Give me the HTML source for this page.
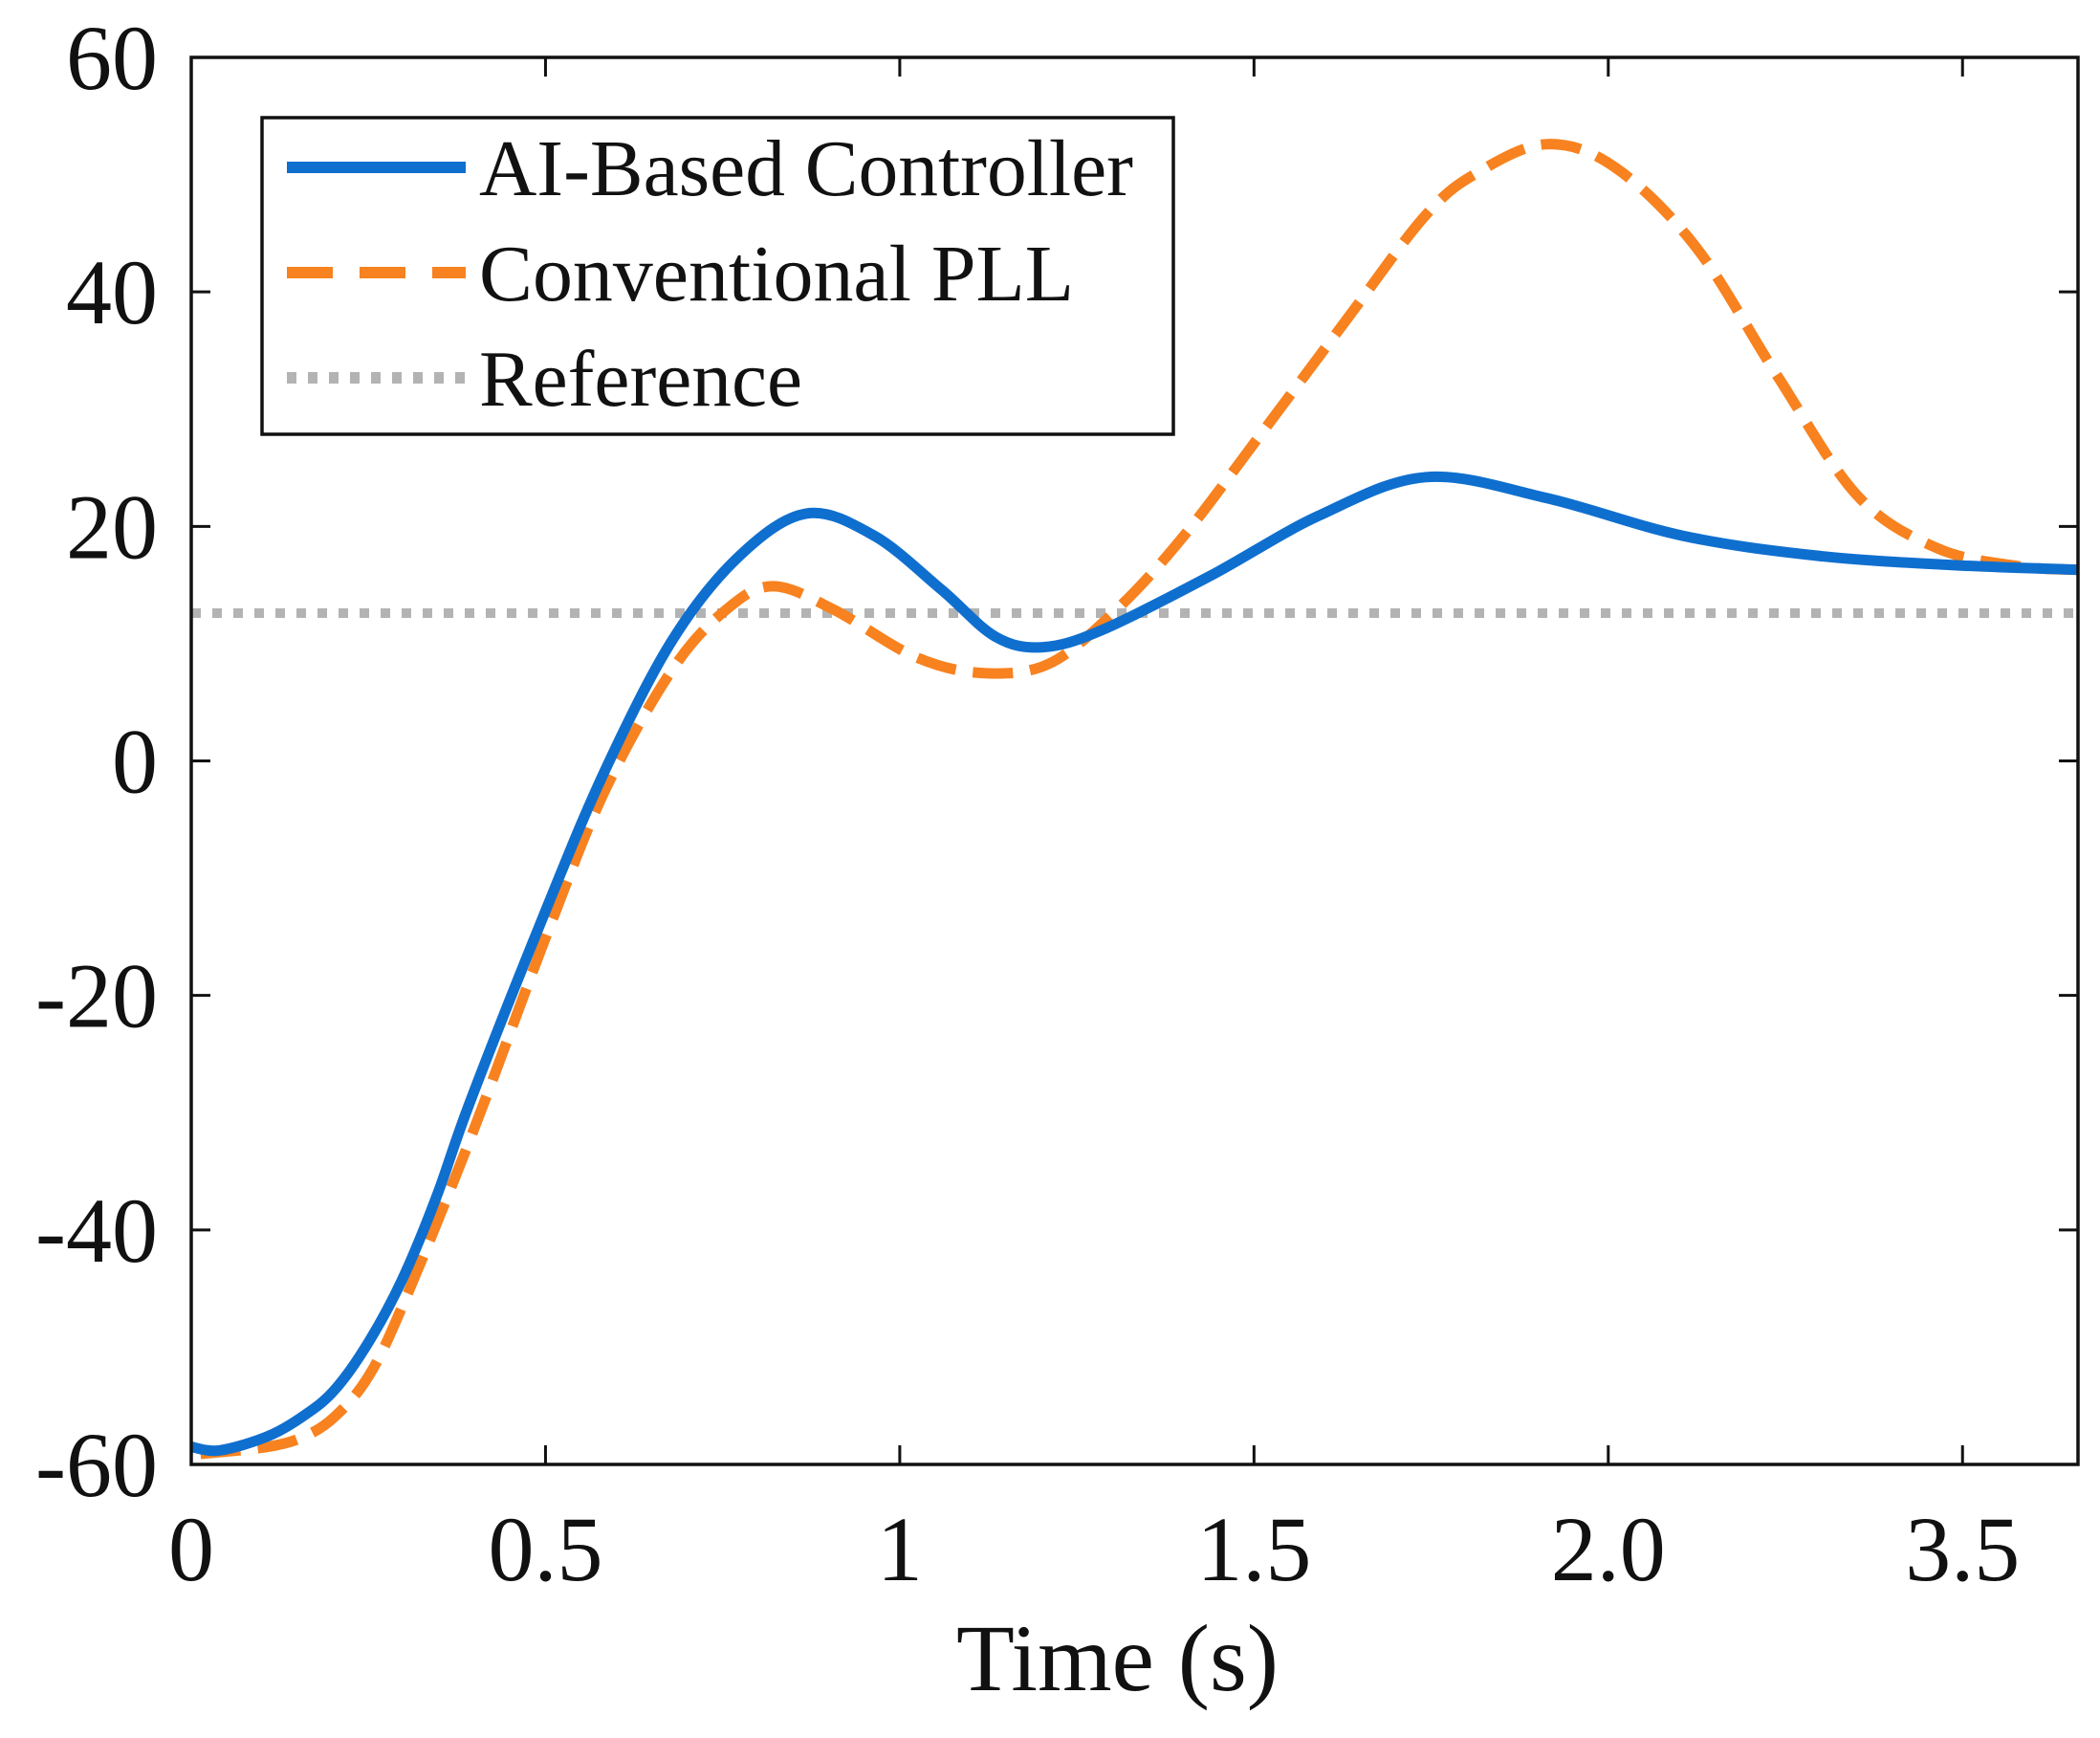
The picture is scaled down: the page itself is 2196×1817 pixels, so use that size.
<!DOCTYPE html>
<html><head><meta charset="utf-8"><style>
html,body{margin:0;padding:0;background:#fff;}
svg{display:block;}
text{font-family:"Liberation Serif",serif;fill:#111;}
</style></head><body>
<svg id="chart" width="2196" height="1817" viewBox="0 0 2196 1817" xmlns="http://www.w3.org/2000/svg">
<g id="series"></g>
<g id="axes"></g>
<g id="legend"></g>
</svg>
<script>
const xTickPos=[0,0.5,1,1.5,2,2.5];
const xTickLabels=["0","0.5","1","1.5","2.0","3.5"];
const yTicks=[-60,-40,-20,0,20,40,60];
const yTickLabels=["-60","-40","-20","0","20","40","60"];
const blueT=[0,0.04,0.108,0.16,0.203,0.25,0.298,0.346,0.394,0.5,0.584,0.679,0.774,0.869,0.964,1.059,1.135,1.202,1.287,1.439,1.591,1.743,1.914,2.105,2.295,2.485,2.663];
const blueV=[-58.5,-58.8,-57.6,-55.8,-53.6,-49.6,-44.2,-37.2,-29.0,-12.8,-0.8,10.3,17.5,21.1,19.2,14.6,10.6,9.7,11.2,15.8,20.9,24.2,22.4,19.2,17.5,16.7,16.3];
const orangeT=[0.013,0.108,0.16,0.203,0.25,0.298,0.394,0.5,0.584,0.679,0.755,0.821,0.907,1.021,1.116,1.211,1.306,1.401,1.515,1.629,1.743,1.819,1.914,2.010,2.124,2.238,2.352,2.466,2.580,2.663];
const orangeV=[-59.1,-58.5,-57.6,-55.9,-52.5,-46.5,-32.2,-15.1,-2.5,7.8,12.9,14.9,12.9,8.9,7.5,8.3,12.9,19.2,28.3,37.5,46.6,50.3,52.6,50.6,43.8,32.9,22.6,18.1,16.6,16.3];
const refValue=[12.6];

const L=200,R=2173,T=60,B=1531,XMAX=2.663;
const sx=t=>L+(t/XMAX)*(R-L);
const sy=v=>B-(v+60)/120*(B-T);
const NS="http://www.w3.org/2000/svg";
function mk(tag,attrs,parent){const e=document.createElementNS(NS,tag);for(const k in attrs)e.setAttribute(k,attrs[k]);parent.appendChild(e);return e;}
const S=document.getElementById('series'),A=document.getElementById('axes'),G=document.getElementById('legend');

const ref=mk('line',{x1:L,x2:R,y1:sy(refValue[0]),y2:sy(refValue[0]),stroke:'#b3b3b3','stroke-width':10,'stroke-dasharray':'10 12'},S);



function smooth(ts,vs){
  const p=ts.map((t,i)=>[sx(t),sy(vs[i])]);let d='M'+p[0][0]+' '+p[0][1];
  for(let i=0;i<p.length-1;i++){const p0=p[i-1]||p[i],p1=p[i],p2=p[i+1],p3=p[i+2]||p2;
    const c1=[p1[0]+(p2[0]-p0[0])/6,p1[1]+(p2[1]-p0[1])/6],c2=[p2[0]-(p3[0]-p1[0])/6,p2[1]-(p3[1]-p1[1])/6];
    d+=` C${c1[0].toFixed(1)} ${c1[1].toFixed(1)} ${c2[0].toFixed(1)} ${c2[1].toFixed(1)} ${p2[0].toFixed(1)} ${p2[1].toFixed(1)}`;}
  return d;}
const ob=mk('path',{d:smooth(orangeT,orangeV),fill:'none',stroke:'#f7821f','stroke-width':11,'stroke-dasharray':'42 18'},S);


const bl=mk('path',{d:smooth(blueT,blueV),fill:'none',stroke:'#0f6fcf','stroke-width':11,'stroke-linejoin':'round'},S);



const frame=mk('rect',{x:L,y:T,width:R-L,height:B-T,fill:'none',stroke:'#111','stroke-width':3.5},A);


xTickPos.forEach((t,i)=>{
  const x=sx(t);
  const tk=mk('path',{d:`M${x} ${B}V${B-20}M${x} ${T}V${T+20}`,stroke:'#111','stroke-width':3},A);
  
  
  const tx=mk('text',{x:x,y:1652,'text-anchor':'middle','font-size':96},A);tx.textContent=xTickLabels[i];
  
  
});
yTicks.forEach((v,i)=>{
  const y=sy(v);
  const tk=mk('path',{d:`M${L} ${y}H${L+20}M${R} ${y}H${R-20}`,stroke:'#111','stroke-width':3},A);
  
  
  const tx=mk('text',{x:165,y:y+33,'text-anchor':'end','font-size':96},A);tx.textContent=yTickLabels[i];
  
  
});
const xt=mk('text',{x:1000,y:1767,'font-size':100,textLength:337,lengthAdjust:'spacingAndGlyphs'},A);xt.textContent='Time (s)';



const lb=mk('rect',{x:274,y:123,width:953,height:331,fill:'#fff',stroke:'#111','stroke-width':3.5},G);


const rows=[['AI-Based Controller','#0f6fcf','',684],['Conventional PLL','#f7821f','48 28',622],['Reference','#b3b3b3','10 12',338]];
rows.forEach((r,i)=>{
  const y=175+i*110;
  const ln=mk('line',{x1:300,x2:487,y1:y,y2:y,stroke:r[1],'stroke-width':12,'stroke-dasharray':r[2]||'none'},G);
  
  
  const tx=mk('text',{x:501,y:y+29,'font-size':84,textLength:r[3],lengthAdjust:'spacingAndGlyphs'},G);tx.textContent=r[0];
  
  
});
</script>
</body></html>
